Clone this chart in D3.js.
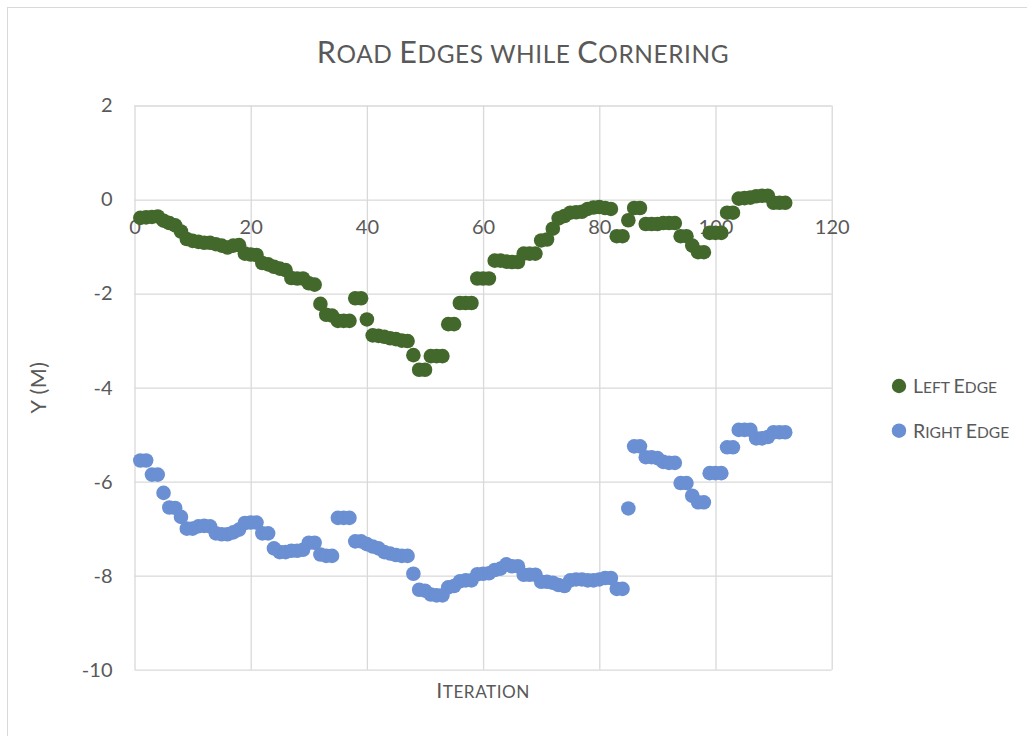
<!DOCTYPE html>
<html>
<head>
<meta charset="utf-8">
<script src="https://cdn.jsdelivr.net/npm/d3@7"></script>
<style>
  body { margin: 0; background: #fff; }
  svg { display: block; }
</style>
</head>
<body>
<svg id="chart" width="1027" height="736"></svg>
<script>
// Iteration index of each sample
const iterations = [
  1, 2, 3, 4, 5, 6, 7, 8, 9, 10, 11, 12, 13, 14, 15, 16, 17, 18, 19, 20,
  21, 22, 23, 24, 25, 26, 27, 28, 29, 30, 31, 32, 33, 34, 35, 36, 37, 38, 39, 40,
  41, 42, 43, 44, 45, 46, 47, 48, 49, 50, 51, 52, 53, 54, 55, 56, 57, 58, 59, 60,
  61, 62, 63, 64, 65, 66, 67, 68, 69, 70, 71, 72, 73, 74, 75, 76, 77, 78, 79, 80,
  81, 82, 83, 84, 85, 86, 87, 88, 89, 90, 91, 92, 93, 94, 95, 96, 97, 98, 99, 100,
  101, 102, 103, 104, 105, 106, 107, 108, 109, 110, 111, 112
];

// Lateral position (m) of the left road edge
const leftEdge = [
  -0.39, -0.38, -0.37, -0.36, -0.45, -0.50, -0.55, -0.68, -0.84, -0.88,
  -0.90, -0.92, -0.92, -0.95, -0.98, -1.02, -0.98, -0.97, -1.15, -1.17,
  -1.18, -1.35, -1.38, -1.43, -1.47, -1.50, -1.67, -1.68, -1.68, -1.78,
  -1.81, -2.22, -2.45, -2.47, -2.58, -2.58, -2.58, -2.10, -2.10, -2.55,
  -2.89, -2.90, -2.92, -2.95, -2.97, -3.00, -3.01, -3.31, -3.62, -3.62,
  -3.33, -3.33, -3.33, -2.65, -2.65, -2.20, -2.20, -2.20, -1.68, -1.68,
  -1.68, -1.30, -1.30, -1.32, -1.33, -1.33, -1.15, -1.15, -1.15, -0.87,
  -0.85, -0.62, -0.40, -0.35, -0.28, -0.27, -0.26, -0.20, -0.17, -0.16,
  -0.18, -0.20, -0.78, -0.78, -0.44, -0.18, -0.18, -0.52, -0.52, -0.52,
  -0.50, -0.50, -0.50, -0.78, -0.78, -0.98, -1.12, -1.12, -0.71, -0.71,
  -0.71, -0.28, -0.28, 0.02, 0.03, 0.04, 0.07, 0.08, 0.08, -0.07,
  -0.07, -0.07
];

// Lateral position (m) of the right road edge
const rightEdge = [
  -5.55, -5.55, -5.85, -5.85, -6.24, -6.55, -6.56, -6.75, -7.00, -7.00,
  -6.95, -6.94, -6.95, -7.10, -7.12, -7.12, -7.08, -7.02, -6.88, -6.87,
  -6.87, -7.10, -7.10, -7.42, -7.50, -7.50, -7.47, -7.47, -7.45, -7.30,
  -7.30, -7.55, -7.58, -7.58, -6.77, -6.77, -6.77, -7.27, -7.27, -7.33,
  -7.38, -7.42, -7.50, -7.53, -7.56, -7.58, -7.58, -7.96, -8.30, -8.32,
  -8.40, -8.42, -8.42, -8.25, -8.22, -8.12, -8.10, -8.10, -7.97, -7.96,
  -7.95, -7.88, -7.85, -7.76, -7.80, -7.80, -7.98, -7.98, -7.98, -8.13,
  -8.13, -8.15, -8.20, -8.22, -8.10, -8.08, -8.08, -8.10, -8.10, -8.08,
  -8.05, -8.05, -8.28, -8.28, -6.57, -5.25, -5.25, -5.48, -5.48, -5.50,
  -5.58, -5.60, -5.60, -6.03, -6.03, -6.30, -6.44, -6.44, -5.82, -5.82,
  -5.82, -5.27, -5.27, -4.90, -4.90, -4.90, -5.08, -5.08, -5.05, -4.95,
  -4.95, -4.95
];

const xTicks = [0, 20, 40, 60, 80, 100, 120];
const yTicks = [2, 0, -2, -4, -6, -8, -10];
const seriesNames = ["Left Edge", "Right Edge"];
const seriesColors = ["#43682b", "#6a8fd2"];
const chartTitle = "Road Edges while Cornering";
const xTitle = "Iteration";
const yTitle = "Y (M)";

const FONT = "Lato, 'Open Sans', sans-serif";
const TEXT = "#595959";
const GRID = "#d9d9d9";

const svg = d3.select("#chart");

// Chart frame (its right and bottom sides run past the page)
svg.append("rect")
  .attr("x", 7.5).attr("y", 7.5)
  .attr("width", 1035).attr("height", 760)
  .attr("fill", "#fff").attr("stroke", GRID).attr("stroke-width", 1);

const plot = { left: 134.5, right: 831.7, top: 105.5, bottom: 669.7 };

const x = d3.scaleLinear().domain([0, 120]).range([plot.left, plot.right]);
const y = d3.scaleLinear().domain([-10, 2]).range([plot.bottom, plot.top]);

// Plain hyphen-minus for negative tick values
const fmt = d => String(d);

// Writes text in small caps: capitals at full size, lower case letters as smaller capitals
function smallCaps(sel, str, big, small) {
  const runs = [];
  for (const ch of str) {
    const isLower = ch !== ch.toUpperCase();
    const isSpace = ch === " ";
    const kind = isSpace ? (runs.length ? runs[runs.length - 1].kind : "big") : (isLower ? "small" : "big");
    if (runs.length && runs[runs.length - 1].kind === kind) runs[runs.length - 1].t += ch;
    else runs.push({ kind, t: ch });
  }
  sel.selectAll("tspan").data(runs).join("tspan")
    .attr("font-size", d => d.kind === "big" ? big : small)
    .text(d => d.t.toUpperCase());
  return sel;
}

// Horizontal gridlines (value axis)
const yGrid = svg.append("g")
  .attr("transform", `translate(${plot.left},0)`)
  .call(d3.axisLeft(y).tickValues(yTicks).tickSize(-(plot.right - plot.left)).tickFormat(""));
yGrid.select(".domain").remove();
yGrid.selectAll(".tick line").attr("stroke", GRID).attr("stroke-width", 1.3);

// Vertical gridlines
const xGrid = svg.append("g")
  .attr("transform", `translate(0,${plot.bottom})`)
  .call(d3.axisBottom(x).tickValues(xTicks).tickSize(-(plot.bottom - plot.top)).tickFormat(""));
xGrid.select(".domain").remove();
xGrid.selectAll(".tick line").attr("stroke", GRID).attr("stroke-width", 1.3);

// Y tick labels
const yAxis = svg.append("g")
  .attr("transform", `translate(${plot.left},0)`)
  .call(d3.axisLeft(y).tickValues(yTicks).tickSize(0).tickPadding(22).tickFormat(fmt));
yAxis.select(".domain").remove();
yAxis.selectAll("text")
  .attr("font-family", FONT).attr("font-size", 20).attr("fill", TEXT);

// X tick labels sit under the zero line
const xAxis = svg.append("g")
  .attr("transform", `translate(0,${y(0)})`)
  .call(d3.axisBottom(x).tickValues(xTicks).tickSize(0).tickPadding(20).tickFormat(fmt));
xAxis.select(".domain").remove();
xAxis.selectAll("text")
  .attr("font-family", FONT).attr("font-size", 20).attr("fill", TEXT);

// Title
smallCaps(svg.append("text")
  .attr("x", 523).attr("y", 63)
  .attr("text-anchor", "middle")
  .attr("letter-spacing", 0.6)
  .attr("font-family", FONT).attr("fill", TEXT), chartTitle, 30.5, 24.4);

// Axis titles
smallCaps(svg.append("text")
  .attr("x", (plot.left + plot.right) / 2).attr("y", 698)
  .attr("text-anchor", "middle")
  .attr("letter-spacing", 0.5)
  .attr("font-family", FONT).attr("fill", TEXT), xTitle, 21.5, 17.2);

smallCaps(svg.append("text")
  .attr("transform", `translate(46,${(plot.top + plot.bottom) / 2}) rotate(-90)`)
  .attr("text-anchor", "middle")
  .attr("letter-spacing", 0.5)
  .attr("font-family", FONT).attr("fill", TEXT), yTitle, 21.5, 17.2);

// Points
const series = [leftEdge, rightEdge];
series.forEach((vals, i) => {
  svg.append("g")
    .selectAll("circle")
    .data(vals.map((v, k) => ({ it: iterations[k], v })))
    .join("circle")
    .attr("cx", d => x(d.it))
    .attr("cy", d => y(d.v))
    .attr("r", 7.3)
    .attr("fill", seriesColors[i]);
});

// Legend
const legend = svg.append("g");
seriesNames.forEach((name, i) => {
  const ly = 386 + i * 44.7;
  legend.append("circle")
    .attr("cx", 899).attr("cy", ly).attr("r", 7.2)
    .attr("fill", seriesColors[i]);
  smallCaps(legend.append("text")
    .attr("x", 913).attr("y", ly + 7)
    .attr("font-family", FONT).attr("fill", TEXT), name, 19.5, 15.6);
});
</script>
</body>
</html>
